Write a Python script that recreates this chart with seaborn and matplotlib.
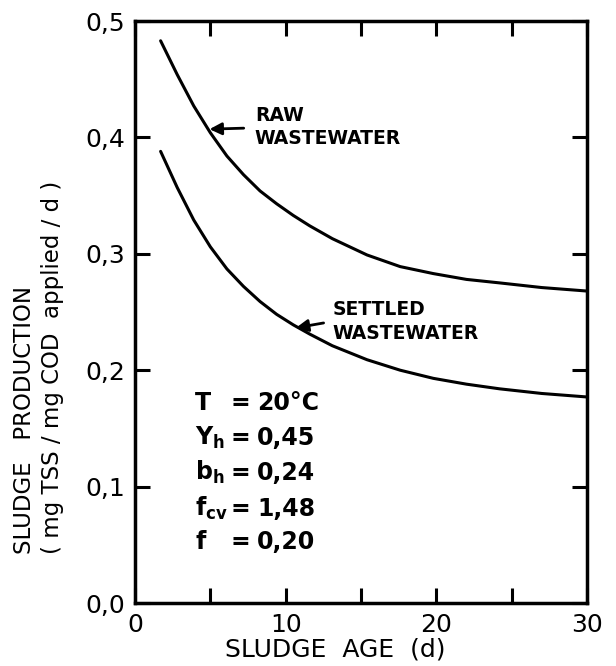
import numpy as np
import pandas as pd
import matplotlib
matplotlib.use("Agg")
import matplotlib.pyplot as plt
import seaborn as sns

# ---- data ----
sludge_age = [1.7, 2.8, 3.9, 5.0, 6.1, 7.2, 8.3, 9.4, 10.5, 11.6, 13.1, 15.4, 17.6, 19.8, 22.0, 24.2, 27.0, 30.0]
raw_production = [0.483, 0.454, 0.427, 0.404, 0.384, 0.368, 0.354, 0.343, 0.333, 0.324, 0.313, 0.299, 0.289, 0.283, 0.278, 0.275, 0.271, 0.268]
settled_production = [0.388, 0.357, 0.329, 0.306, 0.287, 0.272, 0.259, 0.248, 0.239, 0.231, 0.221, 0.209, 0.200, 0.193, 0.188, 0.184, 0.180, 0.177]
series_names = ["RAW\nWASTEWATER", "SETTLED\nWASTEWATER"]

x_ticks = [0, 5, 10, 15, 20, 25, 30]
x_tick_labels = ["0", "", "10", "", "20", "", "30"]
y_ticks = [0.0, 0.1, 0.2, 0.3, 0.4, 0.5]
y_tick_labels = ["0,0", "0,1", "0,2", "0,3", "0,4", "0,5"]

param_symbols = ["T", r"$\mathbf{Y}_{\mathbf{h}}$", r"$\mathbf{b}_{\mathbf{h}}$", r"$\mathbf{f}_{\mathbf{cv}}$", "f"]
param_values = ["20°C", "0,45", "0,24", "1,48", "0,20"]

df = pd.DataFrame({
    "age": sludge_age * 2,
    "prod": raw_production + settled_production,
    "series": [series_names[0]] * len(sludge_age) + [series_names[1]] * len(sludge_age),
})

sns.set_theme(style="ticks")
plt.rcParams["font.family"] = ["DejaVu Sans"]
plt.rcParams["text.color"] = "black"
plt.rcParams["axes.labelcolor"] = "black"
plt.rcParams["xtick.color"] = "black"
plt.rcParams["ytick.color"] = "black"

fig = plt.figure(figsize=(6.16, 6.66), dpi=100)
ax = fig.add_axes([135 / 616, 1 - 603 / 666, 452 / 616, 582 / 666])

sns.lineplot(data=df, x="age", y="prod", hue="series", palette=["black", "black"],
             linewidth=2.2, legend=False, ax=ax, sort=False, estimator=None)

ax.set_xlim(0, 30)
ax.set_ylim(0, 0.5)
ax.set_xticks(x_ticks)
ax.set_xticklabels(x_tick_labels)
ax.set_yticks(y_ticks)
ax.set_yticklabels(y_tick_labels)

for s in ax.spines.values():
    s.set_linewidth(2.5)
    s.set_color("black")
    s.set_visible(True)

ax.tick_params(axis="both", which="major", direction="in", length=10.5, width=2.2,
               labelsize=18, colors="black", pad=7, top=True, right=True)
ax.tick_params(axis="y", pad=7)

# axis labels
ax.set_xlabel("SLUDGE  AGE  (d)", fontsize=18, color="black")
ax.xaxis.set_label_coords(0.4425, -0.060)
ax.xaxis.label.set_va("top")

ax.set_ylabel("SLUDGE   PRODUCTION\n( mg TSS / mg COD  applied / d )", fontsize=16.5,
              multialignment="left", linespacing=1.25, color="black")
yl = ax.yaxis.label
yl.set_rotation_mode("anchor")
yl.set_ha("left")
yl.set_va("center")
ax.yaxis.set_label_coords(-0.213, 0.085)

# curve annotations with arrows
ax.text(7.96, 0.409, series_names[0], fontsize=13.5, fontweight="bold", ha="left", va="center",
        linespacing=1.3, color="black")
ax.annotate("", xy=(4.76, 0.407), xytext=(7.4, 0.408),
            arrowprops=dict(arrowstyle="-|>", color="black", lw=2, mutation_scale=18))
ax.text(13.1, 0.2417, series_names[1], fontsize=13.5, fontweight="bold", ha="left", va="center",
        linespacing=1.3, color="black")
ax.annotate("", xy=(10.5, 0.236), xytext=(12.7, 0.241),
            arrowprops=dict(arrowstyle="-|>", color="black", lw=2, mutation_scale=18))

# parameter block
param_y = [0.172, 0.142, 0.112, 0.081, 0.052]
for sym, val, yy in zip(param_symbols, param_values, param_y):
    ax.text(4.0, yy, sym, fontsize=17, fontweight="bold", ha="left", va="center", color="black")
    ax.text(7.0, yy, "=", fontsize=17, fontweight="bold", ha="center", va="center", color="black")
    ax.text(8.1, yy, val, fontsize=17, fontweight="bold", ha="left", va="center", color="black")

fig.savefig("out.png", dpi=100)
